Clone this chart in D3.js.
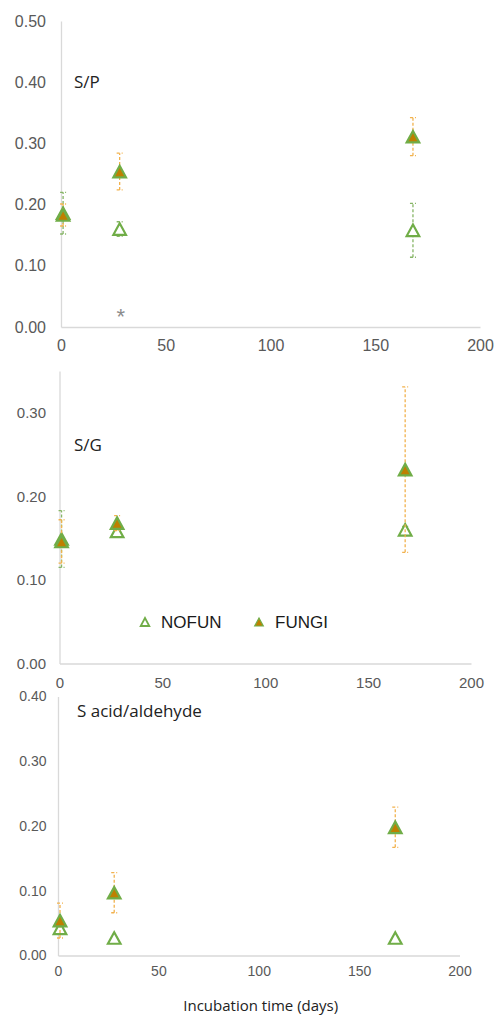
<!DOCTYPE html>
<html>
<head>
<meta charset="utf-8">
<script src="https://cdn.jsdelivr.net/npm/d3@7"></script>
<style>
  body { margin: 0; background: #fff; }
  svg { display: block; }
</style>
</head>
<body>
<div id="chart"></div>
<script>
// data
const days = [1, 28, 168];
const xTicks = [0, 50, 100, 150, 200];

const spNofun = [0.186, 0.160, 0.158];
const spNofunErr = [0.034, 0.012, 0.044];
const spFungi = [0.183, 0.254, 0.311];
const spFungiErr = [0.018, 0.030, 0.031];
const spStars = [{day: 28, value: 0.025}];
const spTicks = [0, 0.1, 0.2, 0.3, 0.4, 0.5];

const sgNofun = [0.149, 0.158, 0.160];
const sgNofunErr = [0.034, 0.004, 0.004];
const sgFungi = [0.146, 0.168, 0.232];
const sgFungiErr = [0.026, 0.009, 0.099];
const sgTicks = [0, 0.1, 0.2, 0.3];

const saNofun = [0.042, 0.027, 0.027];
const saNofunErr = [0.003, 0.002, 0.002];
const saFungi = [0.054, 0.097, 0.198];
const saFungiErr = [0.027, 0.031, 0.031];
const saTicks = [0, 0.1, 0.2, 0.3, 0.4];

const seriesNames = ["NOFUN", "FUNGI"];

const green = "#70AD47";
const brown = "#BF7F00";
const greenErr = "#86B566";
const orangeErr = "#F2B24E";
const labelColor = "#595959";

const W = 494, H = 1015;
const svg = d3.select("#chart").append("svg")
  .attr("width", W).attr("height", H);

function triPath(hw, h) {
  return "M0," + (-h / 2) + "L" + hw + "," + (h / 2) + "L" + (-hw) + "," + (h / 2) + "Z";
}

const panels = [
  {title: "S/P", nofun: spNofun, nofunErr: spNofunErr, fungi: spFungi, fungiErr: spFungiErr,
   ticks: spTicks, yMax: 0.5, left: 61, right: 480, top: 21, bottom: 327,
   font: 16, yPad: 15, xPad: 13, titleX: 74, titleY: 88, stars: spStars},
  {title: "S/G", nofun: sgNofun, nofunErr: sgNofunErr, fungi: sgFungi, fungiErr: sgFungiErr,
   ticks: sgTicks, yMax: 0.35, left: 59.5, right: 471, top: 371, bottom: 663.5,
   font: 15, yPad: 13.5, xPad: 14, titleX: 74, titleY: 451, legend: true},
  {title: "S acid/aldehyde", nofun: saNofun, nofunErr: saNofunErr, fungi: saFungi, fungiErr: saFungiErr,
   ticks: saTicks, yMax: 0.4, left: 58, right: 459.5, top: 696.5, bottom: 955.5,
   font: 14, yPad: 11.5, xPad: 11, titleX: 77, titleY: 717, xTitle: "Incubation time (days)"}
];

panels.forEach(p => {
  const x = d3.scaleLinear().domain([0, 200]).range([p.left, p.right]);
  const y = d3.scaleLinear().domain([0, p.yMax]).range([p.bottom, p.top]);
  const g = svg.append("g");

  const ya = g.append("g")
    .attr("transform", "translate(" + p.left + ",0)")
    .call(d3.axisLeft(y).tickValues(p.ticks).tickSize(0).tickPadding(p.yPad)
      .tickFormat(d3.format(".2f")));
  ya.select(".domain").attr("stroke", "#D9D9D9").attr("stroke-width", 1.3);

  const xa = g.append("g")
    .attr("transform", "translate(0," + p.bottom + ")")
    .call(d3.axisBottom(x).tickValues(xTicks).tickSize(0).tickPadding(p.xPad));
  xa.select(".domain").attr("stroke", "#D9D9D9").attr("stroke-width", 1.3);

  [ya, xa].forEach(a => a.selectAll("text")
    .attr("fill", labelColor)
    .style("font-family", "'Liberation Sans', Arial, sans-serif")
    .style("font-size", p.font + "px"));

  g.append("text")
    .attr("x", p.titleX).attr("y", p.titleY)
    .attr("fill", "#222")
    .style("font-family", "'Open Sans', sans-serif")
    .style("font-size", "17px")
    .text(p.title);

  const sets = [
    {vals: p.nofun, errs: p.nofunErr, errColor: greenErr, fill: "#fff"},
    {vals: p.fungi, errs: p.fungiErr, errColor: orangeErr, fill: brown}
  ];

  sets.forEach(s => {
    const rows = days.map((d, i) => ({day: d, v: s.vals[i], e: s.errs[i]}));
    const eb = g.append("g")
      .attr("stroke", s.errColor)
      .attr("stroke-width", 1.3)
      .attr("stroke-dasharray", "3,2")
      .attr("fill", "none");
    eb.selectAll("line.v").data(rows).enter().append("line")
      .attr("x1", d => x(d.day)).attr("x2", d => x(d.day))
      .attr("y1", d => y(d.v - d.e)).attr("y2", d => y(d.v + d.e));
    eb.selectAll("line.top").data(rows).enter().append("line")
      .attr("x1", d => x(d.day) - 3).attr("x2", d => x(d.day) + 3)
      .attr("y1", d => y(d.v + d.e)).attr("y2", d => y(d.v + d.e));
    eb.selectAll("line.bot").data(rows).enter().append("line")
      .attr("x1", d => x(d.day) - 3).attr("x2", d => x(d.day) + 3)
      .attr("y1", d => y(d.v - d.e)).attr("y2", d => y(d.v - d.e));

    g.append("g").selectAll("path").data(rows).enter().append("path")
      .attr("d", triPath(6.3, 11.5))
      .attr("transform", d => "translate(" + x(d.day) + "," + y(d.v) + ")")
      .attr("fill", s.fill)
      .attr("stroke", green)
      .attr("stroke-width", 2.2)
      .attr("stroke-linejoin", "miter");
  });

  if (p.stars) {
    g.selectAll("text.star").data(p.stars).enter().append("text")
      .attr("x", d => x(d.day) + 1).attr("y", d => y(d.value))
      .attr("dy", "0.55em")
      .attr("text-anchor", "middle")
      .attr("fill", "#8C8C8C")
      .style("font-family", "'Liberation Sans', Arial, sans-serif")
      .style("font-size", "22px")
      .text("*");
  }

  if (p.legend) {
    const lg = g.append("g").attr("transform", "translate(145,622)");
    const items = lg.selectAll("g").data(seriesNames).enter().append("g")
      .attr("transform", (d, i) => "translate(" + (i * 114) + ",0)");
    items.append("path")
      .attr("d", triPath(4.3, 8))
      .attr("fill", (d, i) => i === 0 ? "#fff" : brown)
      .attr("stroke", green)
      .attr("stroke-width", (d, i) => i === 0 ? 1.8 : 1.2);
    items.append("text")
      .attr("x", 16).attr("dy", "0.36em")
      .attr("fill", "#1a1a1a")
      .style("font-family", "'Liberation Sans', Arial, sans-serif")
      .style("font-size", "17px")
      .text(d => d);
  }

  if (p.xTitle) {
    g.append("text")
      .attr("x", (p.left + p.right) / 2 + 2).attr("y", 1011)
      .attr("text-anchor", "middle")
      .attr("fill", "#222")
      .style("font-family", "'Open Sans', sans-serif")
      .style("font-size", "15px")
      .text(p.xTitle);
  }
});
</script>
</body>
</html>
